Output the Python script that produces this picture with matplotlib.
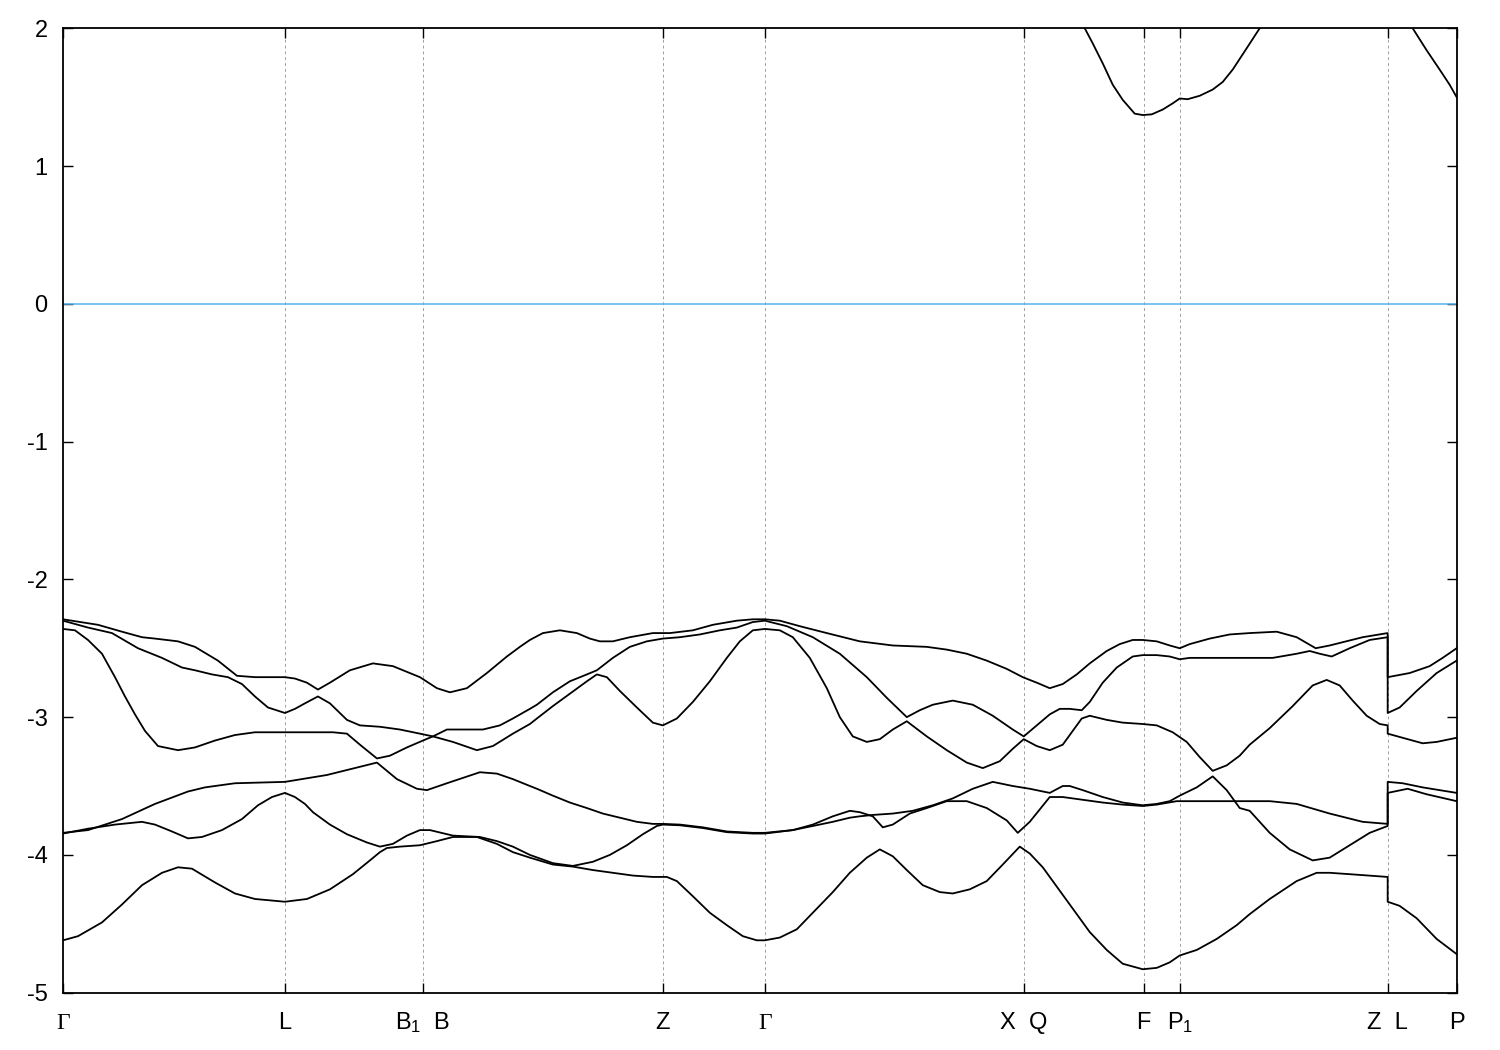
import matplotlib
matplotlib.use('Agg')
import matplotlib.pyplot as plt

plt.rcParams['font.family'] = ['Liberation Sans', 'DejaVu Sans']
plt.rcParams['mathtext.default'] = 'regular'
plt.rcParams['axes.unicode_minus'] = False

# high-symmetry points along the path (k distance, arbitrary units)
k_ticks = [0, 2.22, 3.60, 6.00, 7.02, 9.61, 10.81, 11.17, 13.25, 13.94]
k_labels = ['Γ', 'L', 'B$_1$  B', 'Z', 'Γ', 'X  Q', 'F', 'P$_1$', 'Z  L', 'P']

# valence bands, (k, E) in eV
band1 = [(0, -2.29), (0.35, -2.33), (0.59, -2.38), (0.79, -2.42), (0.92, -2.43), (1.15, -2.45),
         (1.32, -2.49), (1.55, -2.59), (1.74, -2.70), (1.92, -2.71), (2.22, -2.71), (2.32, -2.72),
         (2.44, -2.75), (2.55, -2.80), (2.67, -2.75), (2.87, -2.66), (3.10, -2.61), (3.30, -2.63),
         (3.57, -2.71), (3.74, -2.79), (3.87, -2.82), (4.04, -2.79), (4.24, -2.68), (4.44, -2.56),
         (4.57, -2.49), (4.67, -2.44), (4.80, -2.39), (4.97, -2.37), (5.14, -2.39), (5.27, -2.43),
         (5.37, -2.45), (5.50, -2.45), (5.67, -2.42), (5.90, -2.39), (6.07, -2.39), (6.30, -2.37),
         (6.50, -2.33), (6.74, -2.30), (6.90, -2.29), (7.02, -2.29), (7.17, -2.30), (7.37, -2.34),
         (7.64, -2.39), (7.97, -2.45), (8.30, -2.48), (8.64, -2.49), (8.84, -2.51), (9.04, -2.54),
         (9.24, -2.59), (9.44, -2.65), (9.60, -2.71), (9.74, -2.75), (9.87, -2.79), (10.00, -2.76),
         (10.14, -2.69), (10.27, -2.61), (10.44, -2.52), (10.57, -2.47), (10.70, -2.44), (10.80, -2.44),
         (10.94, -2.45), (11.07, -2.48), (11.17, -2.50), (11.27, -2.47), (11.47, -2.43), (11.67, -2.40),
         (11.87, -2.39), (12.14, -2.38), (12.34, -2.42), (12.53, -2.50), (12.67, -2.48), (13.00, -2.42),
         (13.25, -2.39), (13.25, -2.71), (13.47, -2.68), (13.67, -2.63), (13.80, -2.57), (13.94, -2.50)]

band2 = [(0, -2.30), (0.25, -2.35), (0.49, -2.39), (0.75, -2.50), (0.99, -2.57), (1.19, -2.64),
         (1.32, -2.66), (1.49, -2.69), (1.65, -2.71), (1.79, -2.76), (1.92, -2.85), (2.05, -2.93),
         (2.22, -2.97), (2.32, -2.94), (2.42, -2.90), (2.55, -2.85), (2.67, -2.90), (2.84, -3.02),
         (2.97, -3.06), (3.17, -3.07), (3.37, -3.09), (3.57, -3.12), (3.70, -3.14), (3.90, -3.18),
         (4.14, -3.24), (4.30, -3.21), (4.50, -3.12), (4.67, -3.05), (4.74, -3.01), (4.90, -2.92),
         (5.07, -2.83), (5.24, -2.74), (5.34, -2.69), (5.44, -2.71), (5.57, -2.81), (5.74, -2.93),
         (5.90, -3.04), (6.00, -3.06), (6.14, -3.01), (6.30, -2.89), (6.47, -2.74), (6.64, -2.57),
         (6.77, -2.45), (6.90, -2.37), (7.02, -2.36), (7.17, -2.37), (7.30, -2.42), (7.47, -2.57),
         (7.64, -2.79), (7.77, -3.00), (7.90, -3.14), (8.04, -3.18), (8.17, -3.16), (8.30, -3.09),
         (8.44, -3.03), (8.64, -3.14), (8.84, -3.24), (9.04, -3.33), (9.20, -3.37), (9.37, -3.32),
         (9.50, -3.23), (9.61, -3.16), (9.74, -3.21), (9.87, -3.24), (10.00, -3.20), (10.10, -3.10),
         (10.19, -3.01), (10.27, -2.99), (10.44, -3.02), (10.60, -3.04), (10.80, -3.05), (10.94, -3.06),
         (11.10, -3.11), (11.24, -3.18), (11.37, -3.29), (11.50, -3.39), (11.64, -3.35), (11.77, -3.28),
         (11.87, -3.20), (12.07, -3.08), (12.30, -2.92), (12.50, -2.77), (12.64, -2.73), (12.77, -2.77),
         (12.90, -2.88), (13.04, -2.99), (13.17, -3.05), (13.25, -3.06), (13.25, -3.12), (13.40, -3.15),
         (13.60, -3.19), (13.74, -3.18), (13.94, -3.15)]

band3 = [(0, -2.36), (0.12, -2.37), (0.25, -2.44), (0.39, -2.54), (0.52, -2.71), (0.62, -2.85),
         (0.72, -2.98), (0.82, -3.10), (0.95, -3.21), (1.15, -3.24), (1.32, -3.22), (1.52, -3.17),
         (1.72, -3.13), (1.92, -3.11), (2.22, -3.11), (2.50, -3.11), (2.70, -3.11), (2.84, -3.12),
         (2.97, -3.20), (3.14, -3.30), (3.27, -3.28), (3.44, -3.22), (3.60, -3.17), (3.70, -3.14),
         (3.84, -3.09), (4.04, -3.09), (4.20, -3.09), (4.37, -3.06), (4.50, -3.01), (4.67, -2.94),
         (4.74, -2.91), (4.90, -2.82), (5.07, -2.74), (5.24, -2.69), (5.34, -2.66), (5.50, -2.57),
         (5.67, -2.49), (5.84, -2.45), (6.00, -2.43), (6.17, -2.42), (6.37, -2.40), (6.57, -2.37),
         (6.74, -2.35), (6.90, -2.31), (7.02, -2.30), (7.24, -2.34), (7.50, -2.42), (7.77, -2.54),
         (8.04, -2.71), (8.24, -2.86), (8.44, -3.00), (8.57, -2.95), (8.70, -2.91), (8.90, -2.88),
         (9.10, -2.91), (9.30, -2.99), (9.50, -3.09), (9.61, -3.14), (9.74, -3.06), (9.87, -2.98),
         (9.97, -2.94), (10.07, -2.94), (10.19, -2.95), (10.27, -2.89), (10.40, -2.75), (10.54, -2.64),
         (10.70, -2.56), (10.80, -2.55), (10.94, -2.55), (11.07, -2.56), (11.17, -2.58), (11.27, -2.57),
         (11.47, -2.57), (11.87, -2.57), (12.10, -2.57), (12.34, -2.54), (12.47, -2.52), (12.57, -2.54),
         (12.69, -2.56), (12.87, -2.50), (13.07, -2.44), (13.25, -2.42), (13.25, -2.97), (13.37, -2.93),
         (13.54, -2.81), (13.74, -2.68), (13.94, -2.59)]

band4 = [(0, -3.84), (0.25, -3.82), (0.59, -3.74), (0.92, -3.63), (1.25, -3.54), (1.42, -3.51),
         (1.72, -3.48), (2.22, -3.47), (2.64, -3.42), (3.14, -3.33), (3.34, -3.45), (3.54, -3.52),
         (3.64, -3.53), (3.84, -3.48), (4.17, -3.40), (4.34, -3.41), (4.50, -3.45), (4.67, -3.50),
         (4.74, -3.52), (4.90, -3.57), (5.07, -3.62), (5.24, -3.66), (5.40, -3.70), (5.57, -3.73),
         (5.74, -3.76), (5.90, -3.775), (6.00, -3.775), (6.17, -3.78), (6.40, -3.80), (6.64, -3.83),
         (6.90, -3.84), (7.02, -3.84), (7.30, -3.82), (7.50, -3.79), (7.70, -3.76), (7.87, -3.73),
         (7.97, -3.72), (8.10, -3.71), (8.30, -3.70), (8.50, -3.68), (8.70, -3.64), (8.90, -3.59),
         (9.10, -3.52), (9.30, -3.47), (9.50, -3.50), (9.67, -3.52), (9.87, -3.55), (10.00, -3.50),
         (10.07, -3.50), (10.20, -3.53), (10.40, -3.58), (10.60, -3.62), (10.80, -3.64), (10.94, -3.63),
         (11.07, -3.61), (11.17, -3.57), (11.34, -3.51), (11.50, -3.43), (11.64, -3.53), (11.77, -3.66),
         (11.87, -3.68), (12.07, -3.84), (12.27, -3.96), (12.50, -4.04), (12.67, -4.02), (12.87, -3.93),
         (13.07, -3.84), (13.25, -3.79), (13.25, -3.47), (13.40, -3.48), (13.60, -3.51), (13.94, -3.55)]

band5 = [(0, -3.845), (0.25, -3.81), (0.52, -3.78), (0.79, -3.76), (0.92, -3.78), (1.09, -3.83),
         (1.25, -3.88), (1.39, -3.87), (1.59, -3.82), (1.79, -3.74), (1.95, -3.64), (2.09, -3.58),
         (2.22, -3.55), (2.32, -3.58), (2.42, -3.63), (2.50, -3.69), (2.67, -3.78), (2.84, -3.85),
         (3.04, -3.91), (3.17, -3.94), (3.30, -3.92), (3.44, -3.86), (3.57, -3.82), (3.67, -3.82),
         (3.90, -3.86), (4.17, -3.87), (4.34, -3.90), (4.50, -3.94), (4.67, -4.00), (4.90, -4.06),
         (5.10, -4.08), (5.30, -4.05), (5.47, -4.00), (5.64, -3.93), (5.80, -3.85), (5.94, -3.79),
         (6.00, -3.78), (6.17, -3.785), (6.40, -3.805), (6.64, -3.835), (6.90, -3.845), (7.02, -3.845),
         (7.30, -3.82), (7.50, -3.78), (7.70, -3.72), (7.87, -3.68), (7.97, -3.69), (8.10, -3.72),
         (8.20, -3.80), (8.30, -3.78), (8.47, -3.70), (8.64, -3.66), (8.84, -3.61), (9.04, -3.61),
         (9.24, -3.66), (9.44, -3.75), (9.55, -3.84), (9.67, -3.76), (9.77, -3.67), (9.87, -3.58),
         (10.00, -3.58), (10.20, -3.60), (10.40, -3.62), (10.60, -3.635), (10.80, -3.645), (10.94, -3.635),
         (11.14, -3.61), (11.34, -3.61), (11.74, -3.61), (12.07, -3.61), (12.34, -3.63), (12.67, -3.70),
         (13.00, -3.76), (13.25, -3.775), (13.25, -3.55), (13.45, -3.52), (13.64, -3.56), (13.94, -3.61)]

band6 = [(0, -4.62), (0.15, -4.59), (0.39, -4.49), (0.59, -4.36), (0.79, -4.22), (0.99, -4.13),
         (1.15, -4.09), (1.29, -4.10), (1.52, -4.20), (1.72, -4.28), (1.92, -4.32), (2.22, -4.34),
         (2.44, -4.32), (2.67, -4.25), (2.90, -4.14), (3.07, -4.04), (3.17, -3.98), (3.24, -3.95),
         (3.37, -3.94), (3.57, -3.93), (3.74, -3.90), (3.90, -3.87), (4.14, -3.87), (4.34, -3.92),
         (4.50, -3.98), (4.67, -4.02), (4.90, -4.07), (5.10, -4.085), (5.30, -4.11), (5.50, -4.13),
         (5.70, -4.15), (5.90, -4.16), (6.04, -4.16), (6.14, -4.19), (6.30, -4.30), (6.47, -4.42),
         (6.64, -4.51), (6.80, -4.59), (6.94, -4.62), (7.02, -4.62), (7.17, -4.60), (7.34, -4.54),
         (7.50, -4.42), (7.70, -4.27), (7.87, -4.13), (8.04, -4.02), (8.17, -3.96), (8.30, -4.01),
         (8.44, -4.11), (8.60, -4.22), (8.77, -4.27), (8.90, -4.28), (9.07, -4.25), (9.24, -4.19),
         (9.40, -4.07), (9.57, -3.94), (9.67, -3.99), (9.80, -4.09), (9.97, -4.26), (10.14, -4.43),
         (10.27, -4.56), (10.44, -4.69), (10.60, -4.79), (10.80, -4.83), (10.94, -4.82), (11.07, -4.78),
         (11.17, -4.73), (11.34, -4.69), (11.54, -4.61), (11.74, -4.51), (11.87, -4.43), (12.07, -4.32),
         (12.34, -4.19), (12.54, -4.13), (12.67, -4.13), (12.87, -4.14), (13.25, -4.16), (13.25, -4.34),
         (13.37, -4.37), (13.54, -4.46), (13.74, -4.61), (13.94, -4.72)]

# conduction band pieces visible below 2 eV
cond1 = [(10.22, 2.00), (10.30, 1.89), (10.40, 1.745), (10.50, 1.59), (10.60, 1.48), (10.72, 1.38),
         (10.80, 1.37), (10.89, 1.375), (11.00, 1.41), (11.10, 1.455), (11.17, 1.49), (11.25, 1.485),
         (11.37, 1.51), (11.50, 1.555), (11.60, 1.61), (11.70, 1.70), (11.84, 1.855), (11.97, 2.00)]
cond2 = [(13.50, 2.00), (13.64, 1.84), (13.77, 1.70), (13.87, 1.59), (13.94, 1.50)]

bands = [band1, band2, band3, band4, band5, band6, cond1, cond2]

fig = plt.figure(figsize=(15, 10.5), dpi=100)
ax = fig.add_axes([0.042, 0.0546, 0.9291, 0.9185])

for k in k_ticks[1:-1]:
    ax.axvline(k, color='#a0a0a0', lw=0.7, ls=(0, (3, 3)), zorder=1)
ax.axhline(0, color='#56b4e9', lw=1.1, zorder=2)

for band in bands:
    ks = [p[0] for p in band]
    es = [p[1] for p in band]
    ax.plot(ks, es, color='black', lw=1.3, zorder=3)

ax.set_xlim(k_ticks[0], k_ticks[-1])
ax.set_ylim(-5, 2)
ax.set_yticks(range(-5, 3))
ax.set_xticks(k_ticks)
ax.set_xticklabels([])
ax.tick_params(axis='both', direction='in', length=7.5, width=1.0, top=True, right=True,
               labelsize=17)
ax.tick_params(axis='y', pad=11)
for sp in ax.spines.values():
    sp.set_linewidth(1.3)

# k-point labels, baseline aligned
for k, lab in zip(k_ticks, k_labels):
    fam = ['Liberation Serif'] if lab == 'Γ' else ['Liberation Sans', 'DejaVu Sans']
    ax.annotate(lab, xy=(k, 0), xycoords=('data', 'axes fraction'), xytext=(0, -26),
                textcoords='offset points', ha='center', va='baseline', fontsize=17,
                family=fam)

fig.savefig('out.png', dpi=100)
